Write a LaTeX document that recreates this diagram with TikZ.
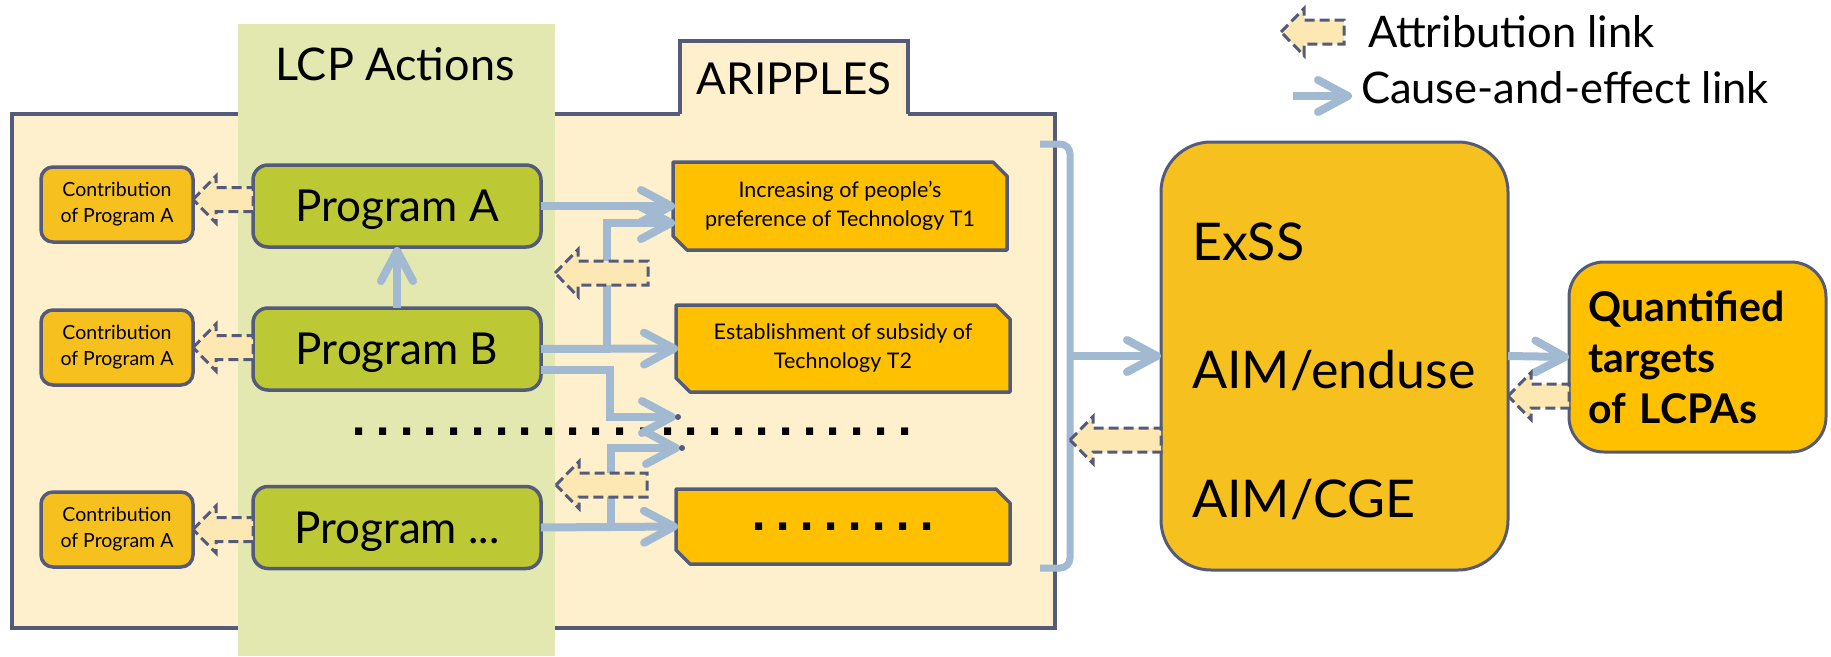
\documentclass[tikz,border=0pt]{standalone}
\usepackage{fontspec}
\setmainfont{Lato}
\newfontfamily\dotfam{DejaVu Sans}
\usetikzlibrary{arrows.meta,calc}
\definecolor{slate}{HTML}{545B7A}
\definecolor{cream}{HTML}{FEF0CC}
\definecolor{lcpgreen}{HTML}{E2E8AF}
\definecolor{olive}{HTML}{BCC834}
\definecolor{gold}{HTML}{F6C11F}
\definecolor{amber}{HTML}{FFC000}
\definecolor{arrowblue}{HTML}{A1B9D1}
\definecolor{attrfill}{HTML}{FDE8B3}
\newcommand\snipbox[4]{\draw[snipshape] (#1,#2) -- (#3-14,#2) -- (#3,#2+14) -- (#3,#4) -- (#1+14,#4) -- (#1,#4-14) -- cycle;}
\newcommand\attrarrow[2]{\draw[attr] let \p1=(#1), \p2=(#2) in (\x1,\y1) -- (\x1+23pt,\y1+23.5pt) -- (\x1+23pt,\y1+12pt) -- (\x2,\y1+12pt) -- (\x2,\y1-12pt) -- (\x1+23pt,\y1-12pt) -- (\x1+23pt,\y1-23.5pt) -- cycle;}
\newcommand\sqdot[1]{\makebox[#1]{.}}
\begin{document}
\begin{tikzpicture}[x=1pt,y=-1pt,
  every node/.style={inner sep=0pt, outer sep=0pt},
  cbox/.style={draw=slate, line width=3.5pt, fill=gold, rounded corners=12pt, minimum width=152pt, minimum height=75pt, align=center, font=\fontsize{19.5}{26}\selectfont},
  pbox/.style={draw=slate, line width=3.5pt, fill=olive, rounded corners=15pt, minimum width=288pt, minimum height=82pt, text depth=0pt, font=\fontsize{44}{50}\selectfont},
  tlabel/.style={minimum width=330pt, minimum height=80pt, align=center, font=\fontsize{21.5}{29}\selectfont},
  snipshape/.style={draw=slate, line width=3.5pt, fill=amber, line join=round},
  cause/.style={draw=arrowblue, line width=8pt, -{Straight Barb[length=30pt,width=32pt,round]}},
  attr/.style={draw=slate, fill=attrfill, line width=3pt, dash pattern=on 10pt off 5pt},
  bluebar/.style={draw=arrowblue, line width=7pt},
  bigtext/.style={anchor=base west, font=\fontsize{52}{55}\selectfont},
  legend/.style={anchor=base west, font=\fontsize{43.5}{48}\selectfont},
  dotfont/.style={font=\dotfam\fontsize{40}{40}\selectfont\bfseries},
]
\useasboundingbox (0,0) rectangle (1831,656);

% ARIPPLES container and tab
\node[draw=slate, line width=4.5pt, fill=cream, minimum width=1043pt, minimum height=514pt] (arip) at (533.5,371) {};
\node[fill=cream, minimum width=228pt, minimum height=76pt, font=\fontsize{44}{50}\selectfont] (tab) at (794,79) {ARIPPLES};
\draw[slate, line width=4.5pt] ([yshift=3pt]tab.south west) -- (tab.north west) -- (tab.north east) -- ([yshift=3pt]tab.south east);

% LCP Actions column
\node[fill=lcpgreen, minimum width=317pt, minimum height=632pt] (lcp) at (396.5,340) {};
\node[font=\fontsize{45}{50}\selectfont] (lcpt) at (395,64) {LCP Actions};

% long dotted line
\node[dotfont] (dline) at (632,432) {\sqdot{23.7pt}\sqdot{23.7pt}\sqdot{23.7pt}\sqdot{23.7pt}\sqdot{23.7pt}\sqdot{23.7pt}\sqdot{23.7pt}\sqdot{23.7pt}\sqdot{23.7pt}\sqdot{23.7pt}\sqdot{23.7pt}\sqdot{23.7pt}\sqdot{23.7pt}\sqdot{23.7pt}\sqdot{23.7pt}\sqdot{23.7pt}\sqdot{23.7pt}\sqdot{23.7pt}\sqdot{23.7pt}\sqdot{23.7pt}\sqdot{23.7pt}\sqdot{23.7pt}\sqdot{23.7pt}\sqdot{23.7pt}};

% contribution boxes
\node[cbox] (C1) at (117,204.5) {Contribution\\of Program A};
\node[cbox] (C2) at (117,347.5) {Contribution\\of Program A};
\node[cbox] (C3) at (117,529.5) {Contribution\\of Program A};

% program boxes
\node[pbox] (A) at (397,206) {Program A};
\node[pbox] (B) at (397,349) {Program B};
\node[pbox] (Pd) at (397,527.5) {Program ...};

% effect boxes
\snipbox{673}{162}{1007}{250}
\node[tlabel] (T1) at (840,206) {Increasing of people's\\preference of Technology T1};
\snipbox{676}{305}{1010}{392}
\node[tlabel] (T2) at (843,348.5) {Establishment of subsidy of\\Technology T2};
\snipbox{676}{489}{1010}{564}
\node[tlabel, dotfont] (T3) at (843,526.5) {\sqdot{24pt}\sqdot{24pt}\sqdot{24pt}\sqdot{24pt}\sqdot{24pt}\sqdot{24pt}\sqdot{24pt}\sqdot{24pt}};

% models box
\node[draw=slate, line width=3pt, fill=gold, rounded corners=50pt, minimum width=347pt, minimum height=428pt] (ExSS) at (1334.5,356) {};
\node[bigtext] (e1) at (1192,260) {ExSS};
\node[bigtext] (e2) at (1192,388) {AIM/enduse};
\node[bigtext] (e3) at (1192,517) {AIM/CGE};

% targets box
\node[draw=slate, line width=3pt, fill=amber, rounded corners=35pt, minimum width=257pt, minimum height=190pt, text width=218pt, align=left, font=\fontsize{41}{51}\selectfont\bfseries] (Q) at (1697.5,357) {Quantified\\targets\\of LCPAs};

% cause-and-effect links
\draw[cause] (A.east) -- (T1.west);
\draw[cause] (B.east) -- (T2.west);
\coordinate (j1) at (607,349);
\draw[cause] (j1) |- ([yshift=-17pt]T1.west);
\coordinate (k1e) at (676,417);
\draw[cause] ([yshift=-21pt]B.east) -| (610,417) -- (k1e);
\draw[cause] (Pd.east) -- (T3.west);
\coordinate (j2) at (611,527.5);
\coordinate (k2e) at (680,448);
\draw[cause] (j2) |- (k2e);
\fill[slate] ([xshift=2pt]k1e) circle (3pt);
\fill[slate] ([xshift=2pt]k2e) circle (3pt);
\draw[cause] (B.north) -- (A.south);
\draw[bluebar, rounded corners=10pt] (1040,144) -- (1070,144) -- (1070,568) -- (1040,568);
\coordinate (brm) at (1070,356);
\draw[cause] (brm) -- (ExSS.west);
\draw[cause] (ExSS.east) -- (Q.west);

% attribution links
\attrarrow{[yshift=5pt]C1.east}{A.west}
\attrarrow{C2.east}{B.west}
\attrarrow{C3.east}{Pd.west}
\coordinate (m1t) at (555,273);
\coordinate (m1e) at (648,273);
\attrarrow{m1t}{m1e}
\coordinate (m2t) at (556,485);
\coordinate (m2e) at (647,485);
\attrarrow{m2t}{m2e}
\coordinate (bra) at (1070,440);
\attrarrow{bra}{ExSS.west}
\attrarrow{[yshift=-40pt]ExSS.east}{Q.west}

% legend
\coordinate (lat) at (1281,32);
\coordinate (lae) at (1344,32);
\attrarrow{lat}{lae}
\node[legend] (lt1) at (1368,47) {Attribution link};
\coordinate (lcs) at (1293,96);
\coordinate (lce) at (1352,96);
\draw[cause] (lcs) -- (lce);
\node[legend] (lt2) at (1361,103) {Cause-and-effect link};
\end{tikzpicture}
\end{document}
